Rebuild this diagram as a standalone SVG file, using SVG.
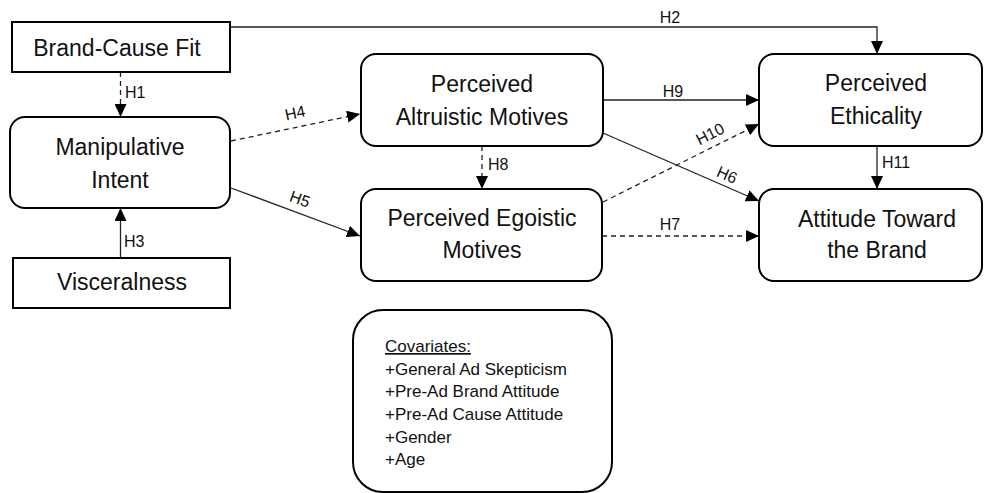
<svg xmlns="http://www.w3.org/2000/svg" width="984" height="493" viewBox="0 0 984 493">
<defs>
<marker id="ah" markerUnits="userSpaceOnUse" markerWidth="14" markerHeight="12" refX="13" refY="6" orient="auto">
<path d="M0,0 L13,6 L0,12 Z" fill="#000"/>
</marker>
<style>
.box{fill:#fff;stroke:#000;stroke-width:2}
.t{font-family:"Liberation Sans",Arial,sans-serif;font-size:23px;fill:#111;text-anchor:middle}
.l{font-family:"Liberation Sans",Arial,sans-serif;font-size:16px;fill:#111}
.c{font-family:"Liberation Sans",Arial,sans-serif;font-size:17px;fill:#111}
.s{fill:none;stroke:#222;stroke-width:1.3;marker-end:url(#ah)}
.d{fill:none;stroke:#222;stroke-width:1.3;stroke-dasharray:5,4;marker-end:url(#ah)}
</style>
</defs>
<rect width="984" height="493" fill="#fff"/>
<g id="connectors">
<path class="s" d="M230,27 H877 V54"/>
<path class="d" d="M120.5,72 V117"/>
<path class="s" d="M120.5,258 V208"/>
<path class="d" d="M231,141 L360,114"/>
<path class="s" d="M231,188 L360,236"/>
<path class="d" d="M482,146 V189"/>
<path class="s" d="M603,100 H759"/>
<path class="d" d="M603,202 L759,124"/>
<path class="s" d="M603,133 L759,201"/>
<path class="d" d="M602,236 H759"/>
<path class="s" d="M877,146 V189"/>
<text class="l" x="670" y="23" text-anchor="middle">H2</text>
<text class="l" x="125" y="98">H1</text>
<text class="l" x="124" y="247">H3</text>
<text class="l" text-anchor="middle" dominant-baseline="central" transform="translate(295,113) rotate(-12)">H4</text>
<text class="l" text-anchor="middle" dominant-baseline="central" transform="translate(300,199) rotate(20)">H5</text>
<text class="l" x="488" y="170">H8</text>
<text class="l" x="673" y="97" text-anchor="middle">H9</text>
<text class="l" text-anchor="middle" dominant-baseline="central" transform="translate(710,134) rotate(-27)">H10</text>
<text class="l" text-anchor="middle" dominant-baseline="central" transform="translate(727,175) rotate(24)">H6</text>
<text class="l" x="670" y="230" text-anchor="middle">H7</text>
<text class="l" x="882" y="168">H11</text>
</g>
<g id="brand-cause-fit">
<rect class="box" x="12" y="22" width="218" height="50"/>
<text class="t" x="117" y="56">Brand-Cause Fit</text>
</g>
<g id="manipulative-intent">
<rect class="box" x="10" y="117" width="220" height="91" rx="15"/>
<text class="t" x="120" y="155">Manipulative</text>
<text class="t" x="120" y="188">Intent</text>
</g>
<g id="visceralness">
<rect class="box" x="13" y="258" width="217" height="50"/>
<text class="t" x="122" y="290">Visceralness</text>
</g>
<g id="altruistic">
<rect class="box" x="361" y="54" width="242" height="92" rx="15"/>
<text class="t" x="482" y="92">Perceived</text>
<text class="t" x="482" y="125">Altruistic Motives</text>
</g>
<g id="egoistic">
<rect class="box" x="361" y="189" width="241" height="92" rx="15"/>
<text class="t" x="482" y="226">Perceived Egoistic</text>
<text class="t" x="482" y="258">Motives</text>
</g>
<g id="ethicality">
<rect class="box" x="759" y="54" width="223" height="92" rx="15"/>
<text class="t" x="876" y="91">Perceived</text>
<text class="t" x="876" y="124">Ethicality</text>
</g>
<g id="attitude">
<rect class="box" x="759" y="189" width="223" height="92" rx="15"/>
<text class="t" x="877" y="227">Attitude Toward</text>
<text class="t" x="877" y="258">the Brand</text>
</g>
<g id="covariates">
<rect class="box" x="353" y="310" width="259" height="182" rx="30"/>
<text class="c" x="385" y="352" text-decoration="underline">Covariates:</text>
<text class="c" x="385" y="375">+General Ad Skepticism</text>
<text class="c" x="385" y="397">+Pre-Ad Brand Attitude</text>
<text class="c" x="385" y="420">+Pre-Ad Cause Attitude</text>
<text class="c" x="385" y="443">+Gender</text>
<text class="c" x="385" y="465">+Age</text>
</g>
</svg>
